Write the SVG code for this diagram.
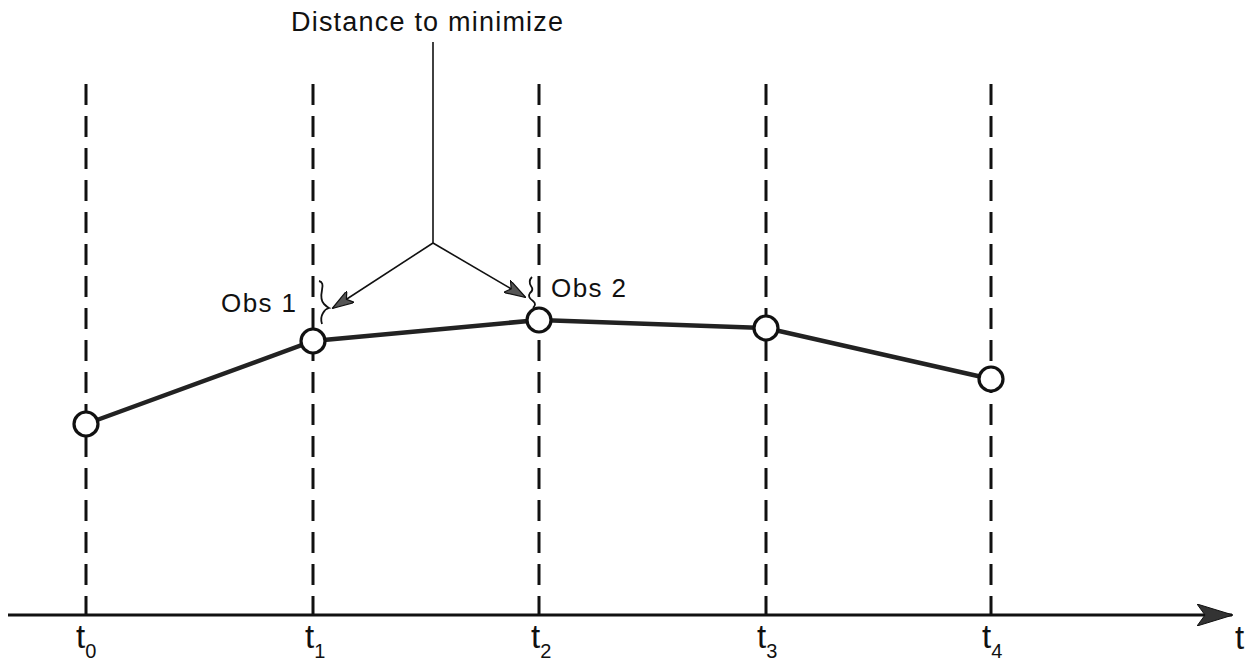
<svg xmlns="http://www.w3.org/2000/svg" width="1251" height="663" viewBox="0 0 1251 663">
<style>
.grid{stroke:#111;stroke-width:3;stroke-dasharray:21 11;fill:none}
.curve{stroke:#222;stroke-width:4.5;fill:none}
.pt{fill:#fff;stroke:#111;stroke-width:3.2}
.ptr{stroke:#111;stroke-width:1.6;fill:none}
.lbl{font-family:"Liberation Sans",Arial,sans-serif;fill:#111}
.brace{stroke:#111;stroke-width:1.8;fill:none}
</style>
<defs>
<marker id="ah" viewBox="0 0 22 14" refX="21" refY="7" markerWidth="22" markerHeight="14" markerUnits="userSpaceOnUse" orient="auto">
<path d="M0,0 L22,7 L0,14 L5,7 Z" fill="#555" stroke="#111" stroke-width="1.2"/>
</marker>
<marker id="axh" viewBox="0 0 36 22" refX="35" refY="11" markerWidth="36" markerHeight="22" markerUnits="userSpaceOnUse" orient="auto">
<path d="M0,0 L36,11 L0,22 L8,11 Z" fill="#333" stroke="#111" stroke-width="1"/>
</marker>
</defs>
<g id="connectors">
<line class="grid" x1="86" y1="84" x2="86" y2="614"/>
<line class="grid" x1="313" y1="84" x2="313" y2="614"/>
<line class="grid" x1="539" y1="84" x2="539" y2="614"/>
<line class="grid" x1="766" y1="84" x2="766" y2="614"/>
<line class="grid" x1="991" y1="84" x2="991" y2="614"/>
<line x1="8" y1="615" x2="1232" y2="615" stroke="#111" stroke-width="3" marker-end="url(#axh)"/>
<polyline class="curve" points="86,424 313,341 539,320 766,328 991,379"/>
<polyline class="ptr" points="433,42 433,243"/>
<line class="ptr" x1="433" y1="243" x2="333" y2="308" marker-end="url(#ah)"/>
<line class="ptr" x1="433" y1="243" x2="525" y2="297" marker-end="url(#ah)"/>
</g>
<g id="node-t0"><circle class="pt" cx="86" cy="424" r="12"/></g>
<g id="node-t1"><circle class="pt" cx="313" cy="341" r="12"/></g>
<g id="node-t2"><circle class="pt" cx="539" cy="320" r="12"/></g>
<g id="node-t3"><circle class="pt" cx="766" cy="328" r="12"/></g>
<g id="node-t4"><circle class="pt" cx="991" cy="379" r="12"/></g>
<g id="obs1">
<path class="brace" d="M319,281 Q324,282 322,290 Q320,300 324,304 Q327,307 329,308 Q325,309 323,313 Q320,318 322,324"/>
<text class="lbl" x="221" y="312" font-size="26" textLength="75" lengthAdjust="spacing">Obs 1</text>
</g>
<g id="obs2">
<path class="brace" d="M532,277 Q528,281 531,286 Q534,290 530,293 Q527,297 533,301 Q537,304 533,308"/>
<text class="lbl" x="551" y="297" font-size="26" textLength="75" lengthAdjust="spacing">Obs 2</text>
</g>
<g id="title">
<text class="lbl" x="427" y="31" font-size="27" text-anchor="middle" textLength="272" lengthAdjust="spacing">Distance to minimize</text>
</g>
<g id="axis-labels" class="lbl">
<text x="76" y="648" font-size="33">t<tspan font-size="20" dy="10">0</tspan></text>
<text x="305" y="648" font-size="33">t<tspan font-size="20" dy="10">1</tspan></text>
<text x="531" y="648" font-size="33">t<tspan font-size="20" dy="10">2</tspan></text>
<text x="757" y="648" font-size="33">t<tspan font-size="20" dy="10">3</tspan></text>
<text x="982" y="648" font-size="33">t<tspan font-size="20" dy="10">4</tspan></text>
<text x="1235" y="649" font-size="33">t</text>
</g>
</svg>
